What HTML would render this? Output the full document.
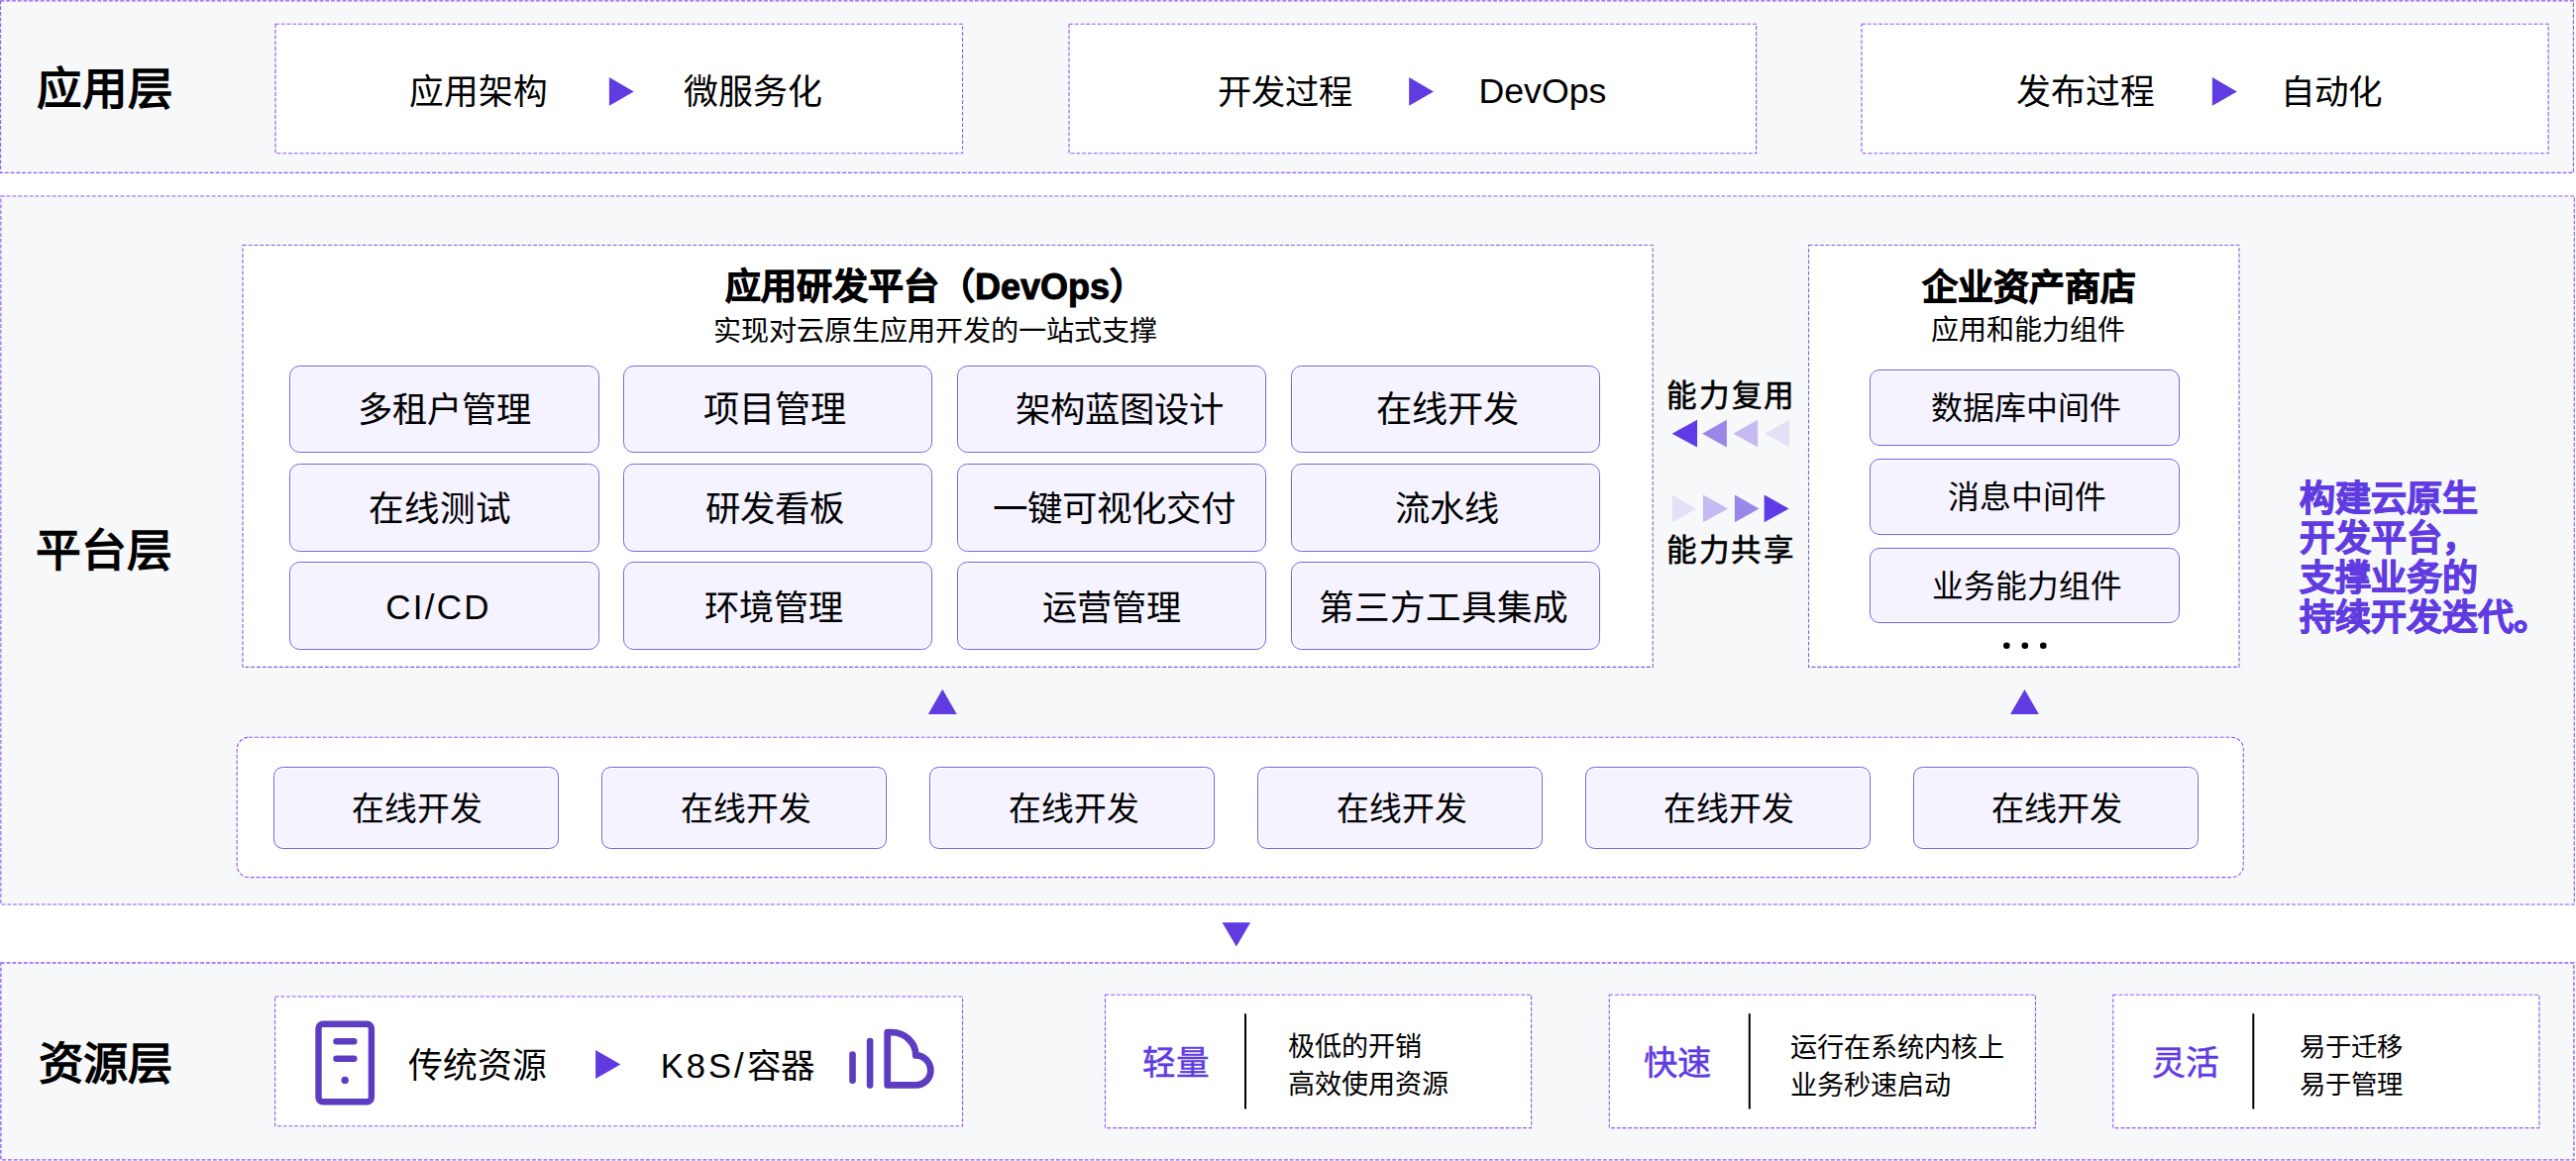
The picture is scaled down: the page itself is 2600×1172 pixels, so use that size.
<!DOCTYPE html>
<html lang="zh-CN"><head><meta charset="utf-8"><title>architecture</title>
<style>
html,body{margin:0;padding:0;background:#fff;}
body{width:2600px;height:1172px;position:relative;overflow:hidden;font-family:"Liberation Sans",sans-serif;}
.t{position:absolute;white-space:nowrap;line-height:1.2;}
.card{position:absolute;box-sizing:border-box;background:#f5f3ff;border:1.6px solid #7260ea;box-shadow:inset 0 0 0 1px #fff;}
svg{position:absolute;left:0;top:0;}
</style></head><body>

<div style="position:absolute;left:0px;top:0px;width:2598px;height:175px;background:#f7f8fa;"></div>
<div style="position:absolute;left:0px;top:198px;width:2599px;height:716px;background:#f7f8fa;"></div>
<div style="position:absolute;left:0px;top:972px;width:2598px;height:199px;background:#f7f8fa;"></div>
<div style="position:absolute;left:278px;top:24px;width:693.5px;height:131px;background:#fff;"></div>
<div style="position:absolute;left:1079px;top:24px;width:693.5999999999999px;height:131px;background:#fff;"></div>
<div style="position:absolute;left:1879px;top:24px;width:693.0999999999999px;height:131px;background:#fff;"></div>
<div style="position:absolute;left:245px;top:247.5px;width:1423.2px;height:425.9px;background:#fff;"></div>
<div class="card" style="left:292.00px;top:368.60px;width:312.50px;height:88.90px;border-radius:10.5px"></div>
<div class="card" style="left:628.90px;top:368.60px;width:312.50px;height:88.90px;border-radius:10.5px"></div>
<div class="card" style="left:965.80px;top:368.60px;width:312.50px;height:88.90px;border-radius:10.5px"></div>
<div class="card" style="left:1302.70px;top:368.60px;width:312.50px;height:88.90px;border-radius:10.5px"></div>
<div class="card" style="left:292.00px;top:467.80px;width:312.50px;height:88.90px;border-radius:10.5px"></div>
<div class="card" style="left:628.90px;top:467.80px;width:312.50px;height:88.90px;border-radius:10.5px"></div>
<div class="card" style="left:965.80px;top:467.80px;width:312.50px;height:88.90px;border-radius:10.5px"></div>
<div class="card" style="left:1302.70px;top:467.80px;width:312.50px;height:88.90px;border-radius:10.5px"></div>
<div class="card" style="left:292.00px;top:567.20px;width:312.50px;height:88.90px;border-radius:10.5px"></div>
<div class="card" style="left:628.90px;top:567.20px;width:312.50px;height:88.90px;border-radius:10.5px"></div>
<div class="card" style="left:965.80px;top:567.20px;width:312.50px;height:88.90px;border-radius:10.5px"></div>
<div class="card" style="left:1302.70px;top:567.20px;width:312.50px;height:88.90px;border-radius:10.5px"></div>
<div style="position:absolute;left:1825.5px;top:247.5px;width:434.5px;height:425.9px;background:#fff;"></div>
<div class="card" style="left:1886.70px;top:372.80px;width:313.60px;height:76.90px;border-radius:10px"></div>
<div class="card" style="left:1886.70px;top:462.70px;width:313.60px;height:76.90px;border-radius:10px"></div>
<div class="card" style="left:1886.70px;top:552.60px;width:313.60px;height:76.90px;border-radius:10px"></div>
<div style="position:absolute;left:239.2px;top:744.3px;width:2025.1000000000001px;height:141.30000000000007px;background:#fff;border-radius:12px;"></div>
<div class="card" style="left:275.60px;top:774.35px;width:288.50px;height:82.85px;border-radius:9.5px"></div>
<div class="card" style="left:606.60px;top:774.35px;width:288.50px;height:82.85px;border-radius:9.5px"></div>
<div class="card" style="left:937.60px;top:774.35px;width:288.50px;height:82.85px;border-radius:9.5px"></div>
<div class="card" style="left:1268.60px;top:774.35px;width:288.50px;height:82.85px;border-radius:9.5px"></div>
<div class="card" style="left:1599.60px;top:774.35px;width:288.50px;height:82.85px;border-radius:9.5px"></div>
<div class="card" style="left:1930.60px;top:774.35px;width:288.50px;height:82.85px;border-radius:9.5px"></div>
<div style="position:absolute;left:277.6px;top:1006px;width:693.9px;height:130.70000000000005px;background:#fff;"></div>
<div style="position:absolute;left:1115.5px;top:1004.2px;width:430.0999999999999px;height:134.39999999999986px;background:#fff;"></div>
<div style="position:absolute;left:1624.3px;top:1004.2px;width:430.10000000000014px;height:134.39999999999986px;background:#fff;"></div>
<div style="position:absolute;left:2132.8px;top:1004.2px;width:430.0999999999999px;height:134.39999999999986px;background:#fff;"></div>
<svg width="2600" height="1172" viewBox="0 0 2600 1172">
<rect x="0.6" y="0.9" width="2596.8" height="173.5" rx="0" fill="none" stroke="#8f55fa" stroke-width="1.1" stroke-dasharray="3.8 1.95"/>
<rect x="0.9" y="198" width="2597.4" height="715" rx="0" fill="none" stroke="#8f55fa" stroke-width="1.1" stroke-dasharray="3.8 1.95"/>
<rect x="0.9" y="972" width="2597.0" height="198.9000000000001" rx="0" fill="none" stroke="#8f55fa" stroke-width="1.3" stroke-dasharray="3.8 1.95"/>
<rect x="278" y="24.2" width="693.5" height="130.60000000000002" rx="0" fill="none" stroke="#8f55fa" stroke-width="1.1" stroke-dasharray="3.8 1.95"/>
<rect x="1079" y="24.2" width="693.5999999999999" height="130.60000000000002" rx="0" fill="none" stroke="#8f55fa" stroke-width="1.1" stroke-dasharray="3.8 1.95"/>
<rect x="1879" y="24.2" width="693.0999999999999" height="130.60000000000002" rx="0" fill="none" stroke="#8f55fa" stroke-width="1.1" stroke-dasharray="3.8 1.95"/>
<polygon points="614.9,78.1 639.7,92.4 614.9,106.7" fill="#603be2"/>
<polygon points="1422.2,78.1 1446.9,92.4 1422.2,106.7" fill="#603be2"/>
<polygon points="2232.9,78.1 2257.8,92.4 2232.9,106.7" fill="#603be2"/>
<rect x="245" y="247.5" width="1423.2" height="425.9" rx="0" fill="none" stroke="#7a60d6" stroke-width="1.1" stroke-dasharray="3.8 1.95"/>
<polygon points="1713,423.8 1687.6,437.65 1713,451.5" fill="#5e3be4"/>
<polygon points="1742.9,423.8 1718.1,437.65 1742.9,451.5" fill="#9b87ea"/>
<polygon points="1774.2,423.8 1749.4,437.65 1774.2,451.5" fill="#c6baf0"/>
<polygon points="1805.9,423.8 1781.1,437.65 1805.9,451.5" fill="#e6e0f7"/>
<polygon points="1687.6,499.6 1712.1,513.4000000000001 1687.6,527.2" fill="#e6e0f7"/>
<polygon points="1719,499.6 1744,513.4000000000001 1719,527.2" fill="#c6baf0"/>
<polygon points="1750.9,499.6 1775.4,513.4000000000001 1750.9,527.2" fill="#9b87ea"/>
<polygon points="1780.6,499.6 1805.6,513.4000000000001 1780.6,527.2" fill="#5e3be4"/>
<rect x="1825.5" y="247.5" width="434.5" height="425.9" rx="0" fill="none" stroke="#7a60d6" stroke-width="1.1" stroke-dasharray="3.8 1.95"/>
<circle cx="2025.3" cy="651.7" r="3.3" fill="#000"/>
<circle cx="2043.8" cy="651.7" r="3.3" fill="#000"/>
<circle cx="2062.3" cy="651.7" r="3.3" fill="#000"/>
<polygon points="951.25,695.8 965.7,721.1 936.8,721.1" fill="#603be2"/>
<polygon points="2043.45,696.1 2057.9,720.9 2029,720.9" fill="#603be2"/>
<rect x="239.2" y="744.3" width="2025.1000000000001" height="141.30000000000007" rx="12" fill="none" stroke="#8f55fa" stroke-width="1.1" stroke-dasharray="3.8 1.95"/>
<polygon points="1233.6,931.2 1262.1,931.2 1247.85,955.4" fill="#603be2"/>
<rect x="277.6" y="1006" width="693.9" height="130.70000000000005" rx="0" fill="none" stroke="#8f55fa" stroke-width="1.1" stroke-dasharray="3.8 1.95"/>
<rect x="321.5" y="1033.8" width="53.4" height="78.4" rx="4.5" fill="none" stroke="#5c3cc0" stroke-width="6.4"/>
<line x1="339.5" y1="1051.2" x2="357.3" y2="1051.2" stroke="#5c3cc0" stroke-width="6.4" stroke-linecap="round"/>
<line x1="339.5" y1="1068.8" x2="357.3" y2="1068.8" stroke="#5c3cc0" stroke-width="6.4" stroke-linecap="round"/>
<circle cx="348.2" cy="1090.4" r="3.7" fill="#5c3cc0"/>
<polygon points="601.1,1060.1 626.3,1074.5 601.1,1088.9" fill="#603be2"/>
<line x1="860.5" y1="1064.5" x2="860.5" y2="1090.8" stroke="#5c3cc0" stroke-width="6.6" stroke-linecap="round"/>
<line x1="878.1" y1="1051" x2="878.1" y2="1095.6" stroke="#5c3cc0" stroke-width="6.6" stroke-linecap="round"/>
<path d="M895.7,1095.4 V1042.1 H900 A24.3,23.3 0 0 1 924.3,1065.4 A15,15 0 0 1 924.3,1095.4 Z" fill="none" stroke="#5c3cc0" stroke-width="6.8" stroke-linejoin="round"/>
<rect x="1115.5" y="1004.2" width="430.0999999999999" height="134.39999999999986" rx="0" fill="none" stroke="#8f55fa" stroke-width="1.1" stroke-dasharray="3.8 1.95"/>
<line x1="1257.0" y1="1023.2" x2="1257.0" y2="1119.5" stroke="#000" stroke-width="2"/>
<rect x="1624.3" y="1004.2" width="430.10000000000014" height="134.39999999999986" rx="0" fill="none" stroke="#8f55fa" stroke-width="1.1" stroke-dasharray="3.8 1.95"/>
<line x1="1765.8" y1="1023.2" x2="1765.8" y2="1119.5" stroke="#000" stroke-width="2"/>
<rect x="2132.8" y="1004.2" width="430.0999999999999" height="134.39999999999986" rx="0" fill="none" stroke="#8f55fa" stroke-width="1.1" stroke-dasharray="3.8 1.95"/>
<line x1="2274.3" y1="1023.2" x2="2274.3" y2="1119.5" stroke="#000" stroke-width="2"/>
</svg>
<div class="t" id="l_app" style="left:37.00px;top:64.00px;font-size:45.55px;font-weight:700;color:#000;">应用层</div>
<div class="t" id="a1" style="left:412.75px;top:73.00px;font-size:34.69px;font-weight:400;color:#000;">应用架构</div>
<div class="t" id="a2" style="left:689.75px;top:72.00px;font-size:34.95px;font-weight:400;color:#000;">微服务化</div>
<div class="t" id="b1" style="left:1229.25px;top:73.00px;font-size:34.23px;font-weight:400;color:#000;">开发过程</div>
<div class="t" id="b2" style="left:1492.50px;top:70.75px;font-size:35.68px;font-weight:400;color:#000;">DevOps</div>
<div class="t" id="c1" style="left:2035.00px;top:72.00px;font-size:34.86px;font-weight:400;color:#000;">发布过程</div>
<div class="t" id="c2" style="left:2301.50px;top:72.50px;font-size:34.51px;font-weight:400;color:#000;">自动化</div>
<div class="t" id="l_plat" style="left:36.25px;top:529.75px;font-size:45.79px;font-weight:700;color:#000;">平台层</div>
<div class="t" id="dv_t" style="left:732.00px;top:268.20px;font-size:36.00px;font-weight:700;color:#000;-webkit-text-stroke:0.9px #000;">应用研发平台（DevOps）</div>
<div class="t" id="dv_s" style="left:719.75px;top:317.75px;font-size:28.10px;font-weight:400;color:#000;">实现对云原生应用开发的一站式支撑</div>
<div class="t" id="g00" style="left:293.55px;top:370.15px;font-size:35.24px;font-weight:400;color:#000;width:310.9px;height:87.3px;line-height:87.3px;text-align:center;">多租户管理</div>
<div class="t" id="g01" style="left:626.45px;top:370.15px;font-size:36.21px;font-weight:400;color:#000;width:310.9px;height:87.3px;line-height:87.3px;text-align:center;">项目管理</div>
<div class="t" id="g02" style="left:974.60px;top:370.15px;font-size:35.33px;font-weight:400;color:#000;width:310.9px;height:87.3px;line-height:87.3px;text-align:center;">架构蓝图设计</div>
<div class="t" id="g03" style="left:1305.75px;top:370.15px;font-size:36.16px;font-weight:400;color:#000;width:310.9px;height:87.3px;line-height:87.3px;text-align:center;">在线开发</div>
<div class="t" id="g10" style="left:289.05px;top:470.60px;font-size:35.63px;font-weight:400;color:#000;width:310.9px;height:87.3px;line-height:87.3px;text-align:center;">在线测试</div>
<div class="t" id="g11" style="left:626.45px;top:470.60px;font-size:35.44px;font-weight:400;color:#000;width:310.9px;height:87.3px;line-height:87.3px;text-align:center;">研发看板</div>
<div class="t" id="g12" style="left:968.85px;top:471.10px;font-size:35.47px;font-weight:400;color:#000;width:310.9px;height:87.3px;line-height:87.3px;text-align:center;">一键可视化交付</div>
<div class="t" id="g13" style="left:1305.00px;top:469.60px;font-size:35.22px;font-weight:400;color:#000;width:310.9px;height:87.3px;line-height:87.3px;text-align:center;">流水线</div>
<div class="t" id="g20" style="left:287.05px;top:569.00px;font-size:35.00px;font-weight:400;color:#000;width:310.9px;height:87.3px;line-height:87.3px;text-align:center;"><span style="letter-spacing:2.2px">CI/CD</span></div>
<div class="t" id="g21" style="left:625.95px;top:570.00px;font-size:35.18px;font-weight:400;color:#000;width:310.9px;height:87.3px;line-height:87.3px;text-align:center;">环境管理</div>
<div class="t" id="g22" style="left:966.85px;top:570.00px;font-size:35.18px;font-weight:400;color:#000;width:310.9px;height:87.3px;line-height:87.3px;text-align:center;">运营管理</div>
<div class="t" id="g23" style="left:1301.75px;top:571.00px;font-size:35.57px;font-weight:400;color:#000;width:310.9px;height:87.3px;line-height:87.3px;text-align:center;">第三方工具集成</div>
<div class="t" id="cap1" style="left:1682.25px;top:381.25px;font-size:30.50px;font-weight:400;color:#000;letter-spacing:2.7px;-webkit-text-stroke:0.6px #000;">能力复用</div>
<div class="t" id="cap2" style="left:1682.25px;top:536.50px;font-size:30.50px;font-weight:400;color:#000;letter-spacing:2.5px;-webkit-text-stroke:0.6px #000;">能力共享</div>
<div class="t" id="as_t" style="left:1939.50px;top:268.75px;font-size:35.97px;font-weight:700;color:#000;-webkit-text-stroke:0.9px #000;">企业资产商店</div>
<div class="t" id="as_s" style="left:1949.00px;top:317.00px;font-size:28.00px;font-weight:400;color:#000;">应用和能力组件</div>
<div class="t" id="as0" style="left:1889.00px;top:375.35px;font-size:31.98px;font-weight:400;color:#000;width:312px;height:75.3px;line-height:75.3px;text-align:center;">数据库中间件</div>
<div class="t" id="as1" style="left:1889.50px;top:464.75px;font-size:31.88px;font-weight:400;color:#000;width:312px;height:75.3px;line-height:75.3px;text-align:center;">消息中间件</div>
<div class="t" id="as2" style="left:1889.50px;top:555.15px;font-size:31.71px;font-weight:400;color:#000;width:312px;height:75.3px;line-height:75.3px;text-align:center;">业务能力组件</div>
<div class="t" id="slogan" style="left:2321.00px;top:484.00px;font-size:36.00px;font-weight:700;color:#603be2;line-height:40px;-webkit-text-stroke:1.0px #603be2;">构建云原生<br>开发平台，<br>支撑业务的<br>持续开发迭代。</div>
<div class="t" id="oc0" style="left:277.90px;top:775.90px;font-size:32.80px;font-weight:400;color:#000;width:286.9px;height:81.25px;line-height:81.25px;text-align:center;">在线开发</div>
<div class="t" id="oc1" style="left:609.65px;top:775.90px;font-size:32.80px;font-weight:400;color:#000;width:286.9px;height:81.25px;line-height:81.25px;text-align:center;">在线开发</div>
<div class="t" id="oc2" style="left:940.40px;top:775.90px;font-size:32.80px;font-weight:400;color:#000;width:286.9px;height:81.25px;line-height:81.25px;text-align:center;">在线开发</div>
<div class="t" id="oc3" style="left:1271.15px;top:775.90px;font-size:32.80px;font-weight:400;color:#000;width:286.9px;height:81.25px;line-height:81.25px;text-align:center;">在线开发</div>
<div class="t" id="oc4" style="left:1601.90px;top:775.90px;font-size:32.80px;font-weight:400;color:#000;width:286.9px;height:81.25px;line-height:81.25px;text-align:center;">在线开发</div>
<div class="t" id="oc5" style="left:1932.90px;top:775.90px;font-size:33.12px;font-weight:400;color:#000;width:286.9px;height:81.25px;line-height:81.25px;text-align:center;">在线开发</div>
<div class="t" id="l_res" style="left:39.00px;top:1047.75px;font-size:45.26px;font-weight:700;color:#000;">资源层</div>
<div class="t" id="r1" style="left:412.10px;top:1055.00px;font-size:34.86px;font-weight:400;color:#000;">传统资源</div>
<div class="t" id="r2" style="left:666.75px;top:1055.50px;font-size:34.50px;font-weight:400;color:#000;"><span style="letter-spacing:3px">K8S/</span>容器</div>
<div class="t" id="rl0" style="left:1153.25px;top:1053.75px;font-size:33.58px;font-weight:400;color:#603be2;-webkit-text-stroke:0.5px #603be2;">轻量</div>
<div class="t" id="rt0" style="left:1299.50px;top:1038.00px;font-size:27.05px;font-weight:400;color:#000;line-height:38.4px;">极低的开销<br>高效使用资源</div>
<div class="t" id="rl1" style="left:1659.30px;top:1052.75px;font-size:34.25px;font-weight:400;color:#603be2;-webkit-text-stroke:0.5px #603be2;">快速</div>
<div class="t" id="rt1" style="left:1806.55px;top:1038.50px;font-size:27.11px;font-weight:400;color:#000;line-height:38.4px;">运行在系统内核上<br>业务秒速启动</div>
<div class="t" id="rl2" style="left:2171.80px;top:1053.25px;font-size:33.83px;font-weight:400;color:#603be2;-webkit-text-stroke:0.5px #603be2;">灵活</div>
<div class="t" id="rt2" style="left:2320.80px;top:1037.50px;font-size:26.35px;font-weight:400;color:#000;line-height:38.4px;">易于迁移<br>易于管理</div>
</body></html>
